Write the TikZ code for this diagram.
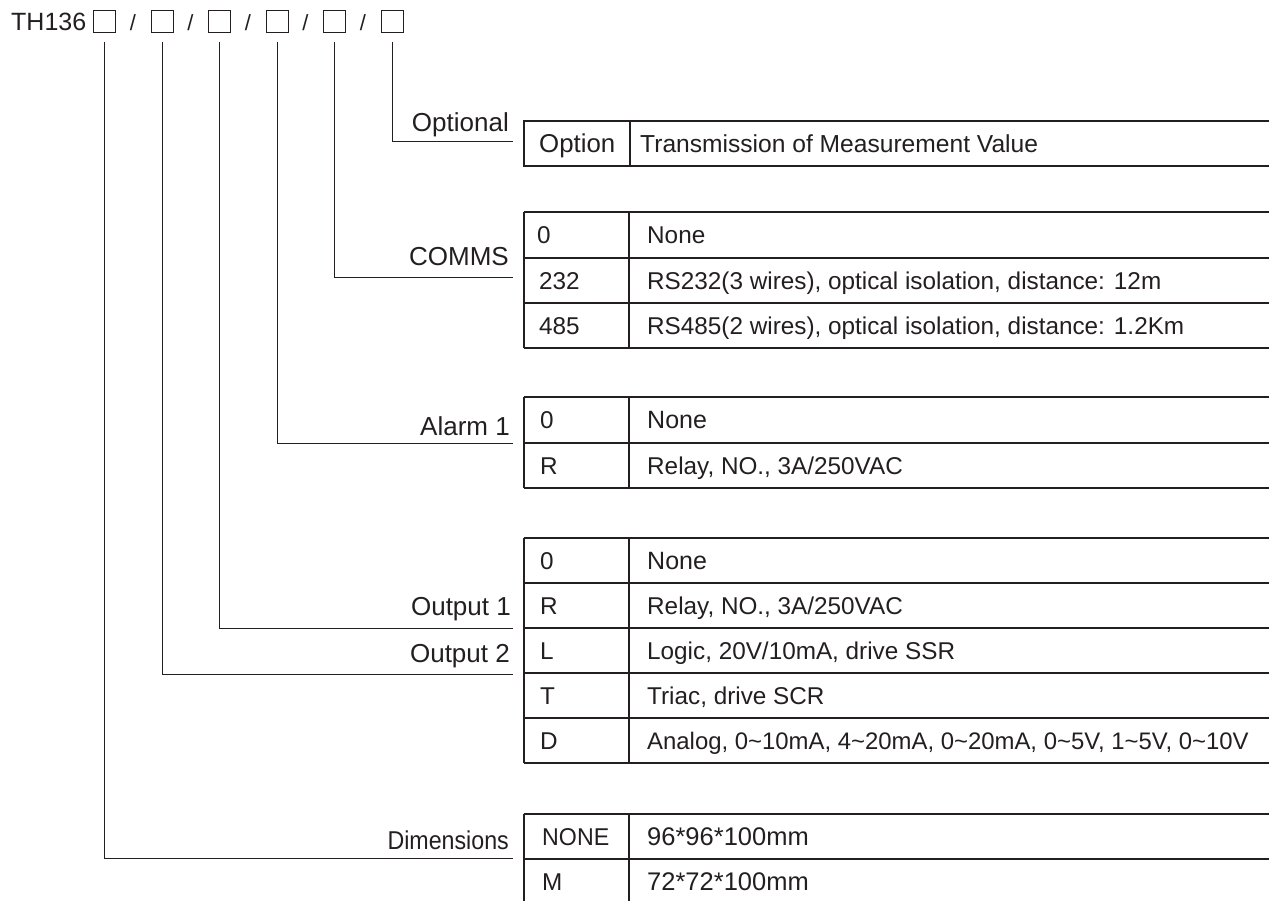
\documentclass[tikz,border=0pt]{standalone}
\usepackage{fontspec}
\usepackage{graphicx}
\setmainfont{Liberation Sans}
\definecolor{ink}{HTML}{231F20}
\begin{document}
\begin{tikzpicture}[x=1bp,y=-1bp,
  txt/.style={inner sep=0pt, anchor=base west, text=ink, font=\fontsize{24.3bp}{29bp}\selectfont},
  lbl/.style={inner sep=0pt, anchor=base east, text=ink, font=\fontsize{26bp}{31bp}\selectfont},
  cbox/.style={draw=ink, line width=0.9bp, minimum width=22bp, minimum height=22bp, inner sep=0pt},
  conn/.style={draw=ink, line width=1bp},
  tline/.style={draw=ink, line width=1.3bp}]
\useasboundingbox (0,0) rectangle (1269,901);

% header
\node[txt, font=\fontsize{25bp}{30bp}\selectfont] (th) at (11,30) {TH136};
\foreach \i/\x in {1/104.5,2/162,3/219.5,4/277,5/334.5,6/392}{
  \node[cbox] (b\i) at (\x,21.5) {};
}
\foreach \i/\x in {1/133,2/190.5,3/248,4/305.5,5/363}{
  \node[inner sep=0pt, anchor=base, text=ink, font=\fontsize{22bp}{26bp}\selectfont] (s\i) at (\x,30) {/};
}

% connector end points at the tables
\coordinate (e6) at (513,141);
\coordinate (e5) at (513,277);
\coordinate (e4) at (513,443);
\coordinate (e3) at (513,628);
\coordinate (e2) at (513,674);
\coordinate (e1) at (513,858);

\foreach \i in {1,...,6}{
  \draw[conn] ([yshift=-9bp]b\i.south) |- (e\i);
}

% labels
\node[lbl] (lopt) at (509,131) {Optional};
\node[lbl] (lcom) at (509,265) {COMMS};
\node[lbl] (lal) at (510,435) {Alarm 1};
\node[lbl] (lo1) at (511,615) {Output 1};
\node[lbl] (lo2) at (510,662) {Output 2};
\node[lbl, font=\fontsize{25.8bp}{31bp}\selectfont] (ldim) at (509,849) {\scalebox{0.9}[1]{Dimensions}};

% Optional table
\draw[tline] (1269,121) -- (524,121) -- (524,166) -- (1269,166);
\draw[tline] (630,121) -- (630,166);
\node[txt, font=\fontsize{25.8bp}{30bp}\selectfont] (o1) at (539,152) {Option};
\node[txt, font=\fontsize{24.6bp}{30bp}\selectfont] (o2) at (640,152) {Transmission of Measurement Value};

% COMMS table
\foreach \y in {212,258,303,348}{ \draw[tline] (524,\y) -- (1269,\y); }
\draw[tline] (524,212) -- (524,348);
\draw[tline] (629,212) -- (629,348);
\node[txt] (c1a) at (537,243.5) {0};
\node[txt] (c1b) at (647,243.5) {None};
\node[txt] (c2a) at (539,289) {232};
\node[txt] (c2b) at (647,289) {RS232(3 wires), optical isolation, distance: 12m};
\node[txt] (c3a) at (539,334) {485};
\node[txt] (c3b) at (647,334) {RS485(2 wires), optical isolation, distance: 1.2Km};

% Alarm table
\foreach \y in {397,443,488}{ \draw[tline] (524,\y) -- (1269,\y); }
\draw[tline] (524,397) -- (524,488);
\draw[tline] (629,397) -- (629,488);
\node[txt] (a1a) at (540,428.5) {0};
\node[txt, font=\fontsize{25bp}{30bp}\selectfont] (a1b) at (647,428.5) {None};
\node[txt] (a2a) at (540,474) {R};
\node[txt] (a2b) at (647,474) {Relay, NO., 3A/250VAC};

% Output table
\foreach \y in {538,583,628,673,718,763}{ \draw[tline] (524,\y) -- (1269,\y); }
\draw[tline] (524,538) -- (524,763);
\draw[tline] (629,538) -- (629,763);
\node[txt] (p1a) at (540,569) {0};
\node[txt, font=\fontsize{25bp}{30bp}\selectfont] (p1b) at (647,569) {None};
\node[txt] (p2a) at (540,614) {R};
\node[txt] (p2b) at (647,614) {Relay, NO., 3A/250VAC};
\node[txt] (p3a) at (540,659) {L};
\node[txt] (p3b) at (647,659) {Logic, 20V/10mA, drive SSR};
\node[txt] (p4a) at (540,704) {T};
\node[txt] (p4b) at (647,704) {Triac, drive SCR};
\node[txt] (p5a) at (540,749) {D};
\node[txt, font=\fontsize{23.9bp}{29bp}\selectfont] (p5b) at (647,749) {Analog, 0\char`~10mA, 4\char`~20mA, 0\char`~20mA, 0\char`~5V, 1\char`~5V, 0\char`~10V};

% Dimensions table
\foreach \y in {814,859}{ \draw[tline] (524,\y) -- (1269,\y); }
\draw[tline] (524,814) -- (524,901);
\draw[tline] (629,814) -- (629,901);
\node[txt] (d1a) at (542,845) {\scalebox{0.955}[1]{NONE}};
\node[txt, font=\fontsize{25.5bp}{30bp}\selectfont] (d1b) at (647,845) {96*96*100mm};
\node[txt] (d2a) at (542,890) {M};
\node[txt, font=\fontsize{25.5bp}{30bp}\selectfont] (d2b) at (647,890) {72*72*100mm};
\end{tikzpicture}
\end{document}
